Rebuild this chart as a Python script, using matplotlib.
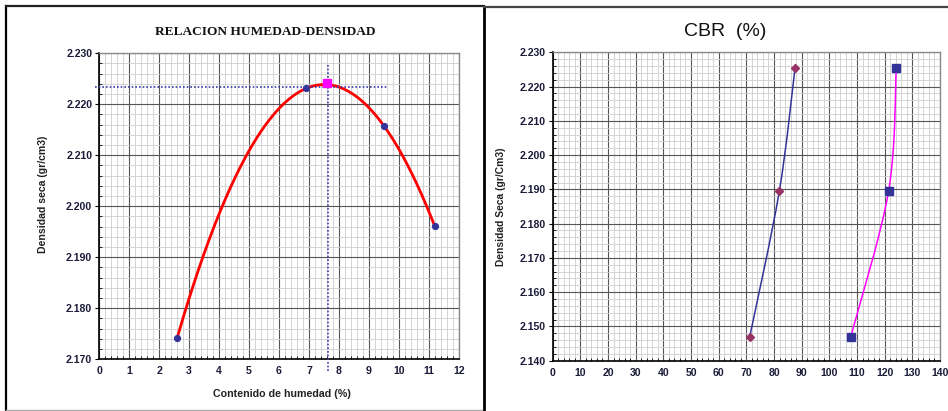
import numpy as np
import matplotlib
matplotlib.use("Agg")
import matplotlib.pyplot as plt
from matplotlib.path import Path
from matplotlib.patches import PathPatch
from matplotlib.ticker import MultipleLocator, FormatStrFormatter
from matplotlib.lines import Line2D

plt.rcParams['font.family'] = ['Liberation Sans', 'DejaVu Sans']

# Compaction test: moisture content (%) vs dry density (gr/cm3)
humedad = [2.6, 6.9, 9.5, 11.2]
densidad = [2.1742, 2.2231, 2.2158, 2.1961]
humedad_optima = 7.6
densidad_maxima = 2.2242
densidad_ref = 2.2233

# CBR (%) vs dry density at two penetrations
cbr_densidad = [2.1469, 2.1894, 2.2254]
cbr_01 = [71.2, 81.9, 87.6]
cbr_02 = [107.7, 121.4, 124.2]

W, H = 948, 411
fig = plt.figure(figsize=(W / 100, H / 100), dpi=100)
fig.patch.set_facecolor('white')

TICK_COLOR = '#1c1c3a'


def style_grid(ax, xmaj, xmin, ymaj, ymin):
    ax.xaxis.set_major_locator(MultipleLocator(xmaj))
    ax.xaxis.set_minor_locator(MultipleLocator(xmin))
    ax.yaxis.set_major_locator(MultipleLocator(ymaj))
    ax.yaxis.set_minor_locator(MultipleLocator(ymin))
    ax.yaxis.set_major_formatter(FormatStrFormatter('%.3f'))
    ax.grid(which='minor', color='#cdcdcd', lw=0.6)
    ax.grid(which='major', color='#555555', lw=0.8)
    ax.set_axisbelow(True)
    for s in ('top', 'right'):
        ax.spines[s].set_color('#8a8a8a')
        ax.spines[s].set_linewidth(1.0)
    for s in ('left', 'bottom'):
        ax.spines[s].set_color('black')
        ax.spines[s].set_linewidth(1.2)
    ax.tick_params(which='major', direction='out', length=3, width=0.8,
                   labelsize=7.6, labelcolor=TICK_COLOR, pad=2)
    ax.tick_params(which='minor', direction='in', length=2, width=0.6)
    ax.tick_params(axis='x', which='major', length=0, pad=5)
    for lab in ax.get_xticklabels() + ax.get_yticklabels():
        lab.set_fontweight('bold')


# ---------------- left chart ----------------
ax1 = fig.add_axes([99.3 / W, 1 - 359.3 / H, 359.4 / W, 306 / H])
ax1.set_xlim(0, 12)
ax1.set_ylim(2.170, 2.230)
style_grid(ax1, 1, 0.2, 0.01, 0.002)

coef = np.polyfit(humedad, densidad, 3)
xs = np.linspace(min(humedad), max(humedad), 200)
ax1.plot(xs, np.polyval(coef, xs), color='#ff0000', lw=2.0, zorder=3)
ax1.plot(humedad, densidad, 'o', color='#333399', ms=4.2, zorder=4)
ax1.plot([humedad_optima], [densidad_maxima], 's', color='#ff00ff', ms=5.5, zorder=5)

ax1.add_line(Line2D([-0.15, 9.65], [densidad_ref, densidad_ref], color='#3c3caa',
                    lw=1.2, ls=(0, (1, 1.2)), clip_on=False, zorder=4))
ax1.add_line(Line2D([humedad_optima + 0.03] * 2, [2.1678, 2.2279], color='#3c3caa',
                    lw=1.2, ls=(0, (1, 1.2)), clip_on=False, zorder=4))

fig.text(265 / W, 1 - 32 / H, 'RELACION HUMEDAD-DENSIDAD', ha='center', va='center',
         family='Liberation Serif', fontweight='bold', fontsize=9.6, color='#111111')
fig.text(43 / W, 1 - 194 / H, 'Densidad seca (gr/cm3)', rotation=90, ha='center',
         va='center', fontsize=7.6, fontweight='bold', color='#222222')
fig.text(282 / W, 1 - 394 / H, 'Contenido de humedad (%)', ha='center', va='center',
         fontsize=7.7, fontweight='bold', color='#222222')

# ---------------- right chart ----------------
ax2 = fig.add_axes([552.7 / W, 1 - 360.7 / H, 387.3 / W, 308.4 / H])
ax2.set_xlim(0, 140)
ax2.set_ylim(2.140, 2.230)
style_grid(ax2, 10, 2, 0.01, 0.002)


def smooth_path(ax, xs, ys):
    """Smoothed line through the points (Catmull-Rom style Bezier in screen space)."""
    pts = ax.transData.transform(np.column_stack([xs, ys]))
    n = len(pts)
    verts = [pts[0]]
    codes = [Path.MOVETO]
    for i in range(n - 1):
        p0 = pts[i - 1] if i > 0 else pts[i]
        p1 = pts[i]
        p2 = pts[i + 1]
        p3 = pts[i + 2] if i + 2 < n else pts[i + 1]
        c1 = p1 + (p2 - p0) / 6.0
        c2 = p2 - (p3 - p1) / 6.0
        verts += [c1, c2, p2]
        codes += [Path.CURVE4] * 3
    data_verts = ax.transData.inverted().transform(np.array(verts))
    return Path(data_verts, codes)


for xs_, color in ((cbr_01, '#333399'), (cbr_02, '#ff00ff')):
    patch = PathPatch(smooth_path(ax2, xs_, cbr_densidad), facecolor='none',
                      edgecolor=color, lw=1.1, zorder=3)
    ax2.add_patch(patch)

ax2.plot(cbr_01, cbr_densidad, 'D', color='#993366', ms=4, zorder=4)
ax2.plot(cbr_02, cbr_densidad, 's', color='#333399', ms=6, zorder=4)

fig.text(725 / W, 1 - 31 / H, 'CBR  (%)', ha='center', va='center', fontsize=14,
         color='#111111')
fig.text(501 / W, 1 - 207 / H, 'Densidad Seca (gr/Cm3)', rotation=90, ha='center',
         va='center', fontsize=7.4, fontweight='bold', color='#222222')

# ---------------- panel frames ----------------
frame = dict(transform=fig.transFigure, clip_on=False)
fig.add_artist(Line2D([6 / W, 6 / W], [1 - 6 / H, 1 - 410 / H], color='black', lw=1.6, **frame))
fig.add_artist(Line2D([6 / W, 484 / W], [1 - 6 / H, 1 - 6 / H], color='#222222', lw=1.6, **frame))
fig.add_artist(Line2D([6 / W, 482 / W], [1 - 409.5 / H, 1 - 409.5 / H], color='#aaaaaa', lw=1.0, **frame))
fig.add_artist(Line2D([484 / W, 484 / W], [1 - 7 / H, 0], color='black', lw=2.0, **frame))
fig.add_artist(Line2D([484 / W, 1], [1 - 7 / H, 1 - 7 / H], color='#444444', lw=1.6, **frame))

fig.savefig('out.png', dpi=100, facecolor='white')
